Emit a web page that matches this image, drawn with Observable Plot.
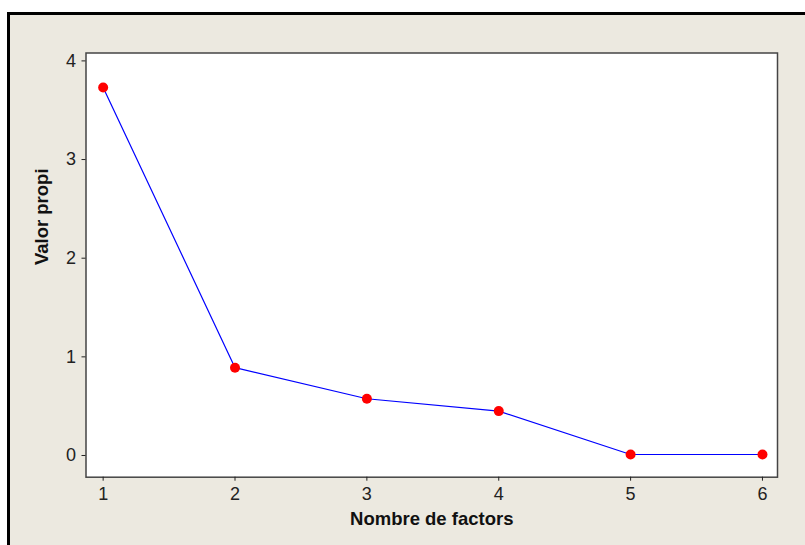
<!DOCTYPE html>
<html><head><meta charset="utf-8">
<script src="https://cdn.jsdelivr.net/npm/d3@7"></script>
<script src="https://cdn.jsdelivr.net/npm/@observablehq/plot@0.6"></script>
<style>
body{margin:0;background:#fff;}
#wrap{position:relative;width:805px;height:545px;overflow:hidden;}
#bg{position:absolute;left:7px;top:12px;width:820px;height:560px;border:3px solid #000;background:#ECE9E0;box-sizing:border-box;}
#chart{position:absolute;left:0;top:0;}
</style></head><body>
<div id="wrap"><div id="bg"></div><div id="chart"></div></div>
<script>
const factors = [1, 2, 3, 4, 5, 6];
const eigenvalues = [3.73, 0.89, 0.575, 0.45, 0.01, 0.01];
const xTicks = [1, 2, 3, 4, 5, 6];
const yTicks = [0, 1, 2, 3, 4];
const xLabel = "Nombre de factors";
const yLabel = "Valor propi";
const data = factors.map((f, i) => ({f, v: eigenvalues[i]}));
const plot = Plot.plot({
  width: 805, height: 545,
  marginLeft: 85.5, marginRight: 28, marginTop: 52.5, marginBottom: 68.3,
  style: {background: "transparent", fontFamily: "'Liberation Sans', Arial, sans-serif", fontSize: "18px", color: "#222"},
  x: {domain: [0.87, 6.114]},
  y: {domain: [-0.22, 4.08]},
  marks: [
    Plot.frame({fill: "white", stroke: "#444", strokeWidth: 1.5}),
    Plot.axisX({ticks: xTicks, tickSize: 4, tickPadding: 6, label: null, tickFormat: d => String(d), fontSize: 18}),
    Plot.axisY({ticks: yTicks, tickSize: 4, tickPadding: 6, label: null, tickFormat: d => String(d), fontSize: 18}),
    Plot.line(data, {x: "f", y: "v", stroke: "#0000FF", strokeWidth: 1.2}),
    Plot.dot(data, {x: "f", y: "v", r: 5, fill: "#FF0000"}),
    Plot.text([xLabel], {text: d => d, frameAnchor: "bottom", dy: 42, fontWeight: "bold", fontSize: 18.5, lineAnchor: "middle", fill: "#111"}),
    Plot.text([yLabel], {text: d => d, frameAnchor: "left", dx: -43.5, rotate: -90, fontWeight: "bold", fontSize: 18.5, lineAnchor: "middle", fill: "#111"})
  ]
});
document.getElementById("chart").appendChild(plot);
</script></body></html>
